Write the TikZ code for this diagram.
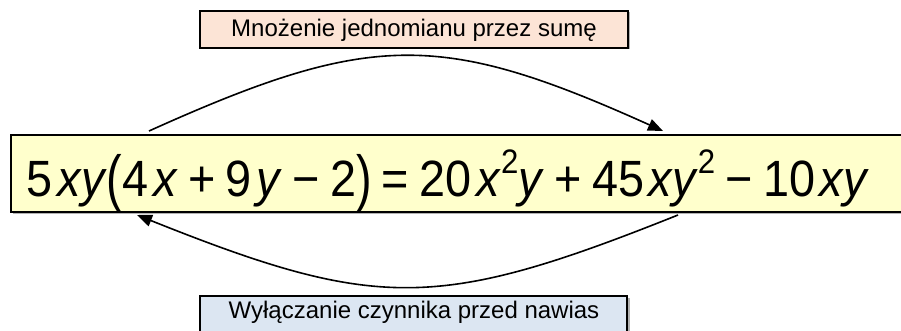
\documentclass[tikz,border=0pt]{standalone}
\usepackage{fontspec}
\setmainfont{Liberation Sans}
\usetikzlibrary{arrows.meta}
\definecolor{peach}{HTML}{FCE4D6}
\definecolor{paleblue}{HTML}{DCE6F2}
\definecolor{paleyellow}{HTML}{FFFFCC}
\newcommand\vv[1]{\textit{#1}}
\newcommand\sq[1]{\raisebox{0.45em}{\fontsize{34}{34}\selectfont #1}}
\newcommand\bp[1]{\raisebox{-0.06em}{\scalebox{1}[1.22]{#1}}}
\newcommand\op[1]{\hspace{0.22em}#1\hspace{0.22em}}
\newcommand\gp{\hspace{0.1em}}
\begin{document}
\begin{tikzpicture}[x=1pt,y=-1pt,
  box/.style={draw=black,line width=1.5pt},
  shadowbox/.style={fill=black!30},
  conn/.style={line width=1.6pt,-{Triangle[length=15pt,width=12pt]}},
  lbl/.style={font=\fontsize{24}{28}\selectfont,text=black,anchor=base}]
\useasboundingbox (0,0) rectangle (901,331);
% top box
\fill[shadowbox] (201.5,12.5) rectangle (629.5,49.5);
\filldraw[box,fill=peach] (200,11) rectangle (628,48);
\node[lbl] (top) at (414,37) {Mnożenie jednomianu przez sumę};
% bottom box
\fill[shadowbox] (201.5,297.5) rectangle (629.5,340);
\filldraw[box,fill=paleblue] (200,296) rectangle (627,340);
\node[lbl] (bot) at (414,318) {Wyłączanie czynnika przed nawias};
% main box
\fill[shadowbox] (12.5,136.5) rectangle (910,213.5);
\filldraw[box,fill=paleyellow] (11,135) rectangle (910,212);
\node[font=\fontsize{51}{57}\selectfont,anchor=base,inner sep=0pt] (eq) at (448,196)
  {\resizebox{842pt}{\height}{5\gp\vv{xy}\bp{(}4\gp\vv{x}\op{+}9\gp\vv{y}\op{−}2\bp{)}\op{=}20\gp\vv{x}\sq{2}\vv{y}\op{+}45\gp\vv{xy}\sq{2}\op{−}10\gp\vv{xy}}};
% connectors
\coordinate (a1) at (149,131);
\coordinate (a2) at (663,131);
\coordinate (b1) at (678,215);
\coordinate (b2) at (137,215);
\draw[conn] (a1) .. controls (371,31) and (441,31) .. (a2);
\draw[conn] (b1) .. controls (438,311) and (377,311) .. (b2);
\end{tikzpicture}
\end{document}
